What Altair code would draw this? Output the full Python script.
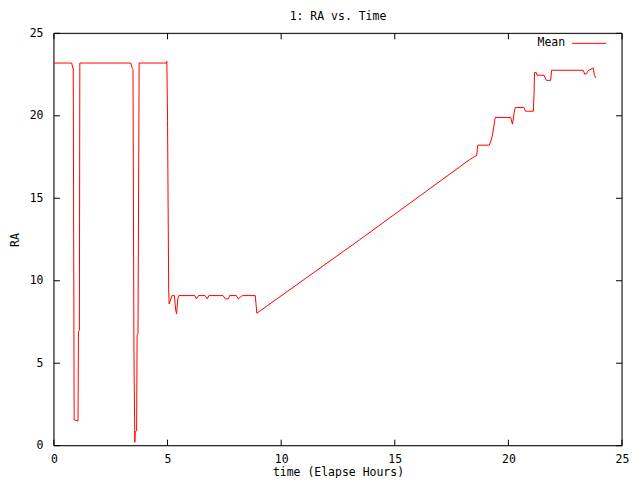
import altair as alt
import pandas as pd

hours = [0.0, 0.78, 0.83, 0.85, 0.89, 1.06, 1.08, 1.12, 1.14,
         3.38, 3.45, 3.48, 3.52, 3.56, 3.58, 3.64, 3.66, 3.70, 3.75,
         4.95, 4.97, 5.00, 5.05, 5.07, 5.20, 5.30, 5.36, 5.40, 5.45, 5.50,
         6.20, 6.27, 6.36, 6.65, 6.75, 6.82, 7.44, 7.55, 7.68, 7.73,
         8.03, 8.11, 8.29, 8.86, 8.93, 13.44, 18.30, 18.57, 18.60, 18.65,
         19.16, 19.23, 19.30, 19.42, 20.10, 20.18, 20.25, 20.30, 20.69, 20.75,
         21.10, 21.13, 21.15, 21.23, 21.26, 21.57, 21.62, 21.67, 21.86, 21.90,
         23.29, 23.36, 23.43, 23.52, 23.69, 23.73, 23.78, 23.84]
ra = [23.2, 23.2, 22.9, 22.9, 1.57, 1.49, 6.9, 7.0, 23.2,
      23.2, 22.86, 22.8, 5.9, 0.2, 0.85, 0.9, 6.7, 6.8, 23.2,
      23.2, 23.3, 19.7, 9.5, 8.6, 9.1, 9.1, 8.2, 8.0, 8.9, 9.1,
      9.1, 8.9, 9.1, 9.1, 8.9, 9.1, 9.1, 8.9, 8.9, 9.1,
      9.1, 8.9, 9.1, 9.1, 8.03, 12.47, 17.35, 17.57, 17.57, 18.22,
      18.22, 18.48, 18.83, 19.9, 19.9, 19.49, 20.17, 20.5, 20.5, 20.28,
      20.28, 21.4, 22.62, 22.62, 22.46, 22.46, 22.3, 22.15, 22.15, 22.76,
      22.76, 22.52, 22.55, 22.76, 22.86, 22.92, 22.5, 22.3]

x_ticks = [0, 5, 10, 15, 20, 25]
y_ticks = [0, 5, 10, 15, 20, 25]

# corners of the plot border (axis range 0..25 on both axes)
border_x = [0, 25, 25, 0, 0]
border_y = [0, 0, 25, 25, 0]

W, H = 569, 413
FONT = "DejaVu Sans Mono"
FS = 11.5

df = pd.DataFrame({"time": hours, "RA": ra})
border = pd.DataFrame({"bx": border_x, "by": border_y, "k": list(range(5))})
xt = pd.DataFrame({"t": x_ticks})
yt = pd.DataFrame({"t": y_ticks})

xscale = alt.Scale(domain=[0, 25], nice=False, zero=False)
yscale = alt.Scale(domain=[0, 25], nice=False, zero=False)

x_axis = alt.Axis(values=x_ticks, title="time (Elapse Hours)",
                  tickSize=0, domain=False, grid=False, labelPadding=8,
                  labelFlush=False,
                  labelFont=FONT, labelFontSize=FS, labelColor="black",
                  titleFont=FONT, titleFontSize=FS, titleFontWeight="normal",
                  titleColor="black", titleY=27, titleBaseline="middle")
y_axis = alt.Axis(values=y_ticks, title="RA", tickSize=0, domain=False,
                  grid=False, labelPadding=11, labelFlush=False,
                  labelFont=FONT, labelFontSize=FS, labelColor="black",
                  titleFont=FONT, titleFontSize=FS, titleFontWeight="normal",
                  titleColor="black", titleX=-38, titleY=H / 2,
                  titleAngle=270, titleAlign="center", titleBaseline="middle")

frame = alt.Chart(border).mark_line(stroke="#000000", strokeWidth=1).encode(
    x=alt.X("bx:Q", scale=xscale, axis=x_axis),
    y=alt.Y("by:Q", scale=yscale, axis=y_axis),
    order="k:Q",
)

line = alt.Chart(df).mark_line(stroke="#ff0000", strokeWidth=1).encode(
    x=alt.X("time:Q", scale=xscale),
    y=alt.Y("RA:Q", scale=yscale),
)

tick_len = 6
xb = alt.Chart(xt).mark_rule(stroke="#000000", strokeWidth=1).encode(
    x=alt.X("t:Q", scale=xscale), y=alt.value(H), y2=alt.value(H - tick_len))
xtp = alt.Chart(xt).mark_rule(stroke="#000000", strokeWidth=1).encode(
    x=alt.X("t:Q", scale=xscale), y=alt.value(0), y2=alt.value(tick_len))
yl = alt.Chart(yt).mark_rule(stroke="#000000", strokeWidth=1).encode(
    y=alt.Y("t:Q", scale=yscale), x=alt.value(0), x2=alt.value(tick_len))
yr = alt.Chart(yt).mark_rule(stroke="#000000", strokeWidth=1).encode(
    y=alt.Y("t:Q", scale=yscale), x=alt.value(W), x2=alt.value(W - tick_len))

leg_text = alt.Chart(pd.DataFrame({"s": ["Mean"]})).mark_text(
    font=FONT, fontSize=FS, align="right", baseline="middle", color="black"
).encode(text="s:N", x=alt.value(512), y=alt.value(10))
leg_line = alt.Chart(pd.DataFrame({"s": ["Mean"]})).mark_rule(
    stroke="#ff0000", strokeWidth=1
).encode(x=alt.value(519), x2=alt.value(553), y=alt.value(10))

chart = alt.layer(frame, line, xb, xtp, yl, yr,
                  leg_text, leg_line).properties(
    width=W, height=H,
    background="white",
    title=alt.TitleParams("1: RA vs. Time", font=FONT, fontSize=FS,
                          fontWeight="normal", anchor="middle", offset=5,
                          color="black"),
    autosize=alt.AutoSizeParams(type="none"),
    padding={"left": 46, "top": 25, "right": 10, "bottom": 32},
)

chart.save("out.html", embed_options={"renderer": "svg", "actions": False})
